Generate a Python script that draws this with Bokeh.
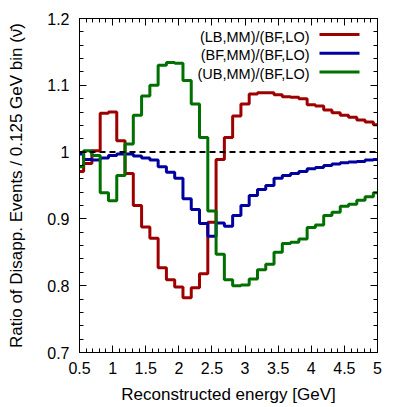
from bokeh.plotting import figure
from bokeh.models import FixedTicker, LinearAxis, Span, Label, Arrow, Range1d, CustomJSTickFormatter
from bokeh.embed import file_html
from bokeh.resources import INLINE

# bin centres [GeV]
energy = [0.5, 0.625, 0.75, 0.875, 1.0, 1.125, 1.25, 1.375, 1.5, 1.625, 1.75, 1.875,
          2.0, 2.125, 2.25, 2.375, 2.5, 2.625, 2.75, 2.875, 3.0, 3.125, 3.25, 3.375,
          3.5, 3.625, 3.75, 3.875, 4.0, 4.125, 4.25, 4.375, 4.5, 4.625, 4.75, 4.875, 5.0]

lb_mm = [0.971, 0.983, 1.002, 1.058, 1.060, 1.017, 0.968, 0.920, 0.888, 0.871, 0.827, 0.809,
         0.798, 0.782, 0.797, 0.818, 0.895, 0.989, 1.022, 1.054, 1.072, 1.087, 1.089, 1.089,
         1.086, 1.083, 1.082, 1.080, 1.071, 1.069, 1.063, 1.059, 1.055, 1.052, 1.048, 1.045, 1.041]

bf_mm = [0.997, 0.989, 0.988, 0.991, 0.995, 0.997, 0.997, 0.994, 0.991, 0.988, 0.978, 0.970,
         0.961, 0.930, 0.914, 0.893, 0.874, 0.894, 0.889, 0.905, 0.920, 0.935, 0.944, 0.950,
         0.961, 0.965, 0.968, 0.971, 0.975, 0.977, 0.980, 0.982, 0.984, 0.985, 0.986, 0.988, 0.989]

ub_mm = [0.978, 1.002, 0.995, 0.939, 0.927, 0.965, 1.012, 1.055, 1.084, 1.100, 1.130, 1.134,
         1.133, 1.107, 1.072, 1.022, 0.912, 0.847, 0.809, 0.800, 0.801, 0.810, 0.824, 0.832,
         0.850, 0.863, 0.865, 0.870, 0.887, 0.891, 0.905, 0.910, 0.919, 0.922, 0.928, 0.933, 0.939]

series_names = ["(LB,MM)/(BF,LO)", "(BF,MM)/(BF,LO)", "(UB,MM)/(BF,LO)"]
series_colors = ["#9e0000", "#00009e", "#007000"]
reference_level = 1.0

x_ticks = [0.5, 1.0, 1.5, 2.0, 2.5, 3.0, 3.5, 4.0, 4.5, 5.0]
x_tick_labels = ["0.5", "1", "1.5", "2", "2.5", "3", "3.5", "4", "4.5", "5"]
y_ticks = [0.7, 0.8, 0.9, 1.0, 1.1, 1.2]
y_tick_labels = ["0.7", "0.8", "0.9", "1", "1.1", "1.2"]
x_minor = [round(0.5 + 0.1 * i, 2) for i in range(46)]
y_minor = [round(0.7 + 0.02 * i, 2) for i in range(26)]

FONT = "Liberation Sans"

p = figure(width=407, height=407, output_backend="svg", toolbar_location=None,
           x_range=Range1d(0.5, 5.0), y_range=Range1d(0.7, 1.2),
           min_border_left=79, min_border_right=30, min_border_top=18, min_border_bottom=55,
           x_axis_label="Reconstructed energy [GeV]",
           y_axis_label="Ratio of Disapp. Events / 0.125 GeV bin (\u03bd\u0304)")
p.xgrid.visible = False
p.ygrid.visible = False
p.outline_line_color = "black"
p.outline_line_width = 1
p.background_fill_color = "white"
p.border_fill_color = "white"


def style_axis(ax, ticks, minor, labels, show):
    ax.ticker = FixedTicker(ticks=ticks, minor_ticks=minor)
    ax.major_tick_in = 7
    ax.major_tick_out = 0
    ax.minor_tick_in = 4
    ax.minor_tick_out = 0
    ax.axis_line_color = "black"
    ax.major_tick_line_color = "black"
    ax.minor_tick_line_color = "black"
    ax.major_label_text_font = FONT
    ax.major_label_text_font_size = "16px"
    ax.major_label_text_color = "black"
    ax.axis_label_text_font = FONT
    ax.axis_label_text_font_size = "17px"
    ax.axis_label_text_font_style = "normal"
    ax.axis_label_text_color = "black"
    if show:
        ax.major_label_overrides = dict(zip(ticks, labels))
    else:
        ax.formatter = CustomJSTickFormatter(code="return ''")
        ax.major_label_standoff = 0


style_axis(p.xaxis[0], x_ticks, x_minor, x_tick_labels, True)
style_axis(p.yaxis[0], y_ticks, y_minor, y_tick_labels, True)
p.xaxis[0].major_label_standoff = 9
p.xaxis[0].axis_label_standoff = 8
p.yaxis[0].major_label_standoff = 10
p.yaxis[0].axis_label_standoff = 18

top_ax = LinearAxis()
style_axis(top_ax, x_ticks, x_minor, x_tick_labels, False)
p.add_layout(top_ax, "above")
right_ax = LinearAxis()
style_axis(right_ax, y_ticks, y_minor, y_tick_labels, False)
p.add_layout(right_ax, "right")

for ys, c in zip([lb_mm, bf_mm, ub_mm], series_colors):
    p.step(x=energy, y=ys, mode="center", line_color=c, line_width=3)

p.add_layout(Span(location=reference_level, dimension="width", line_color="black",
                  line_dash="6 4", line_width=2))

# legend: text right-aligned, sample line to the right
for i, (name, c) in enumerate(zip(series_names, series_colors)):
    ty = 316 - 18.7 * i
    ly = 318 - 18.7 * i
    p.add_layout(Label(x=230, y=ty, x_units="screen", y_units="screen", text=name,
                       text_align="right", text_baseline="middle", text_font=FONT,
                       text_font_size="14.5px", text_color="black"))
    p.add_layout(Arrow(x_start=240, y_start=ly, x_end=280, y_end=ly,
                       start_units="screen", end_units="screen", start=None, end=None,
                       line_color=c, line_width=3))

open("out.html", "w").write(file_html(p, INLINE))
